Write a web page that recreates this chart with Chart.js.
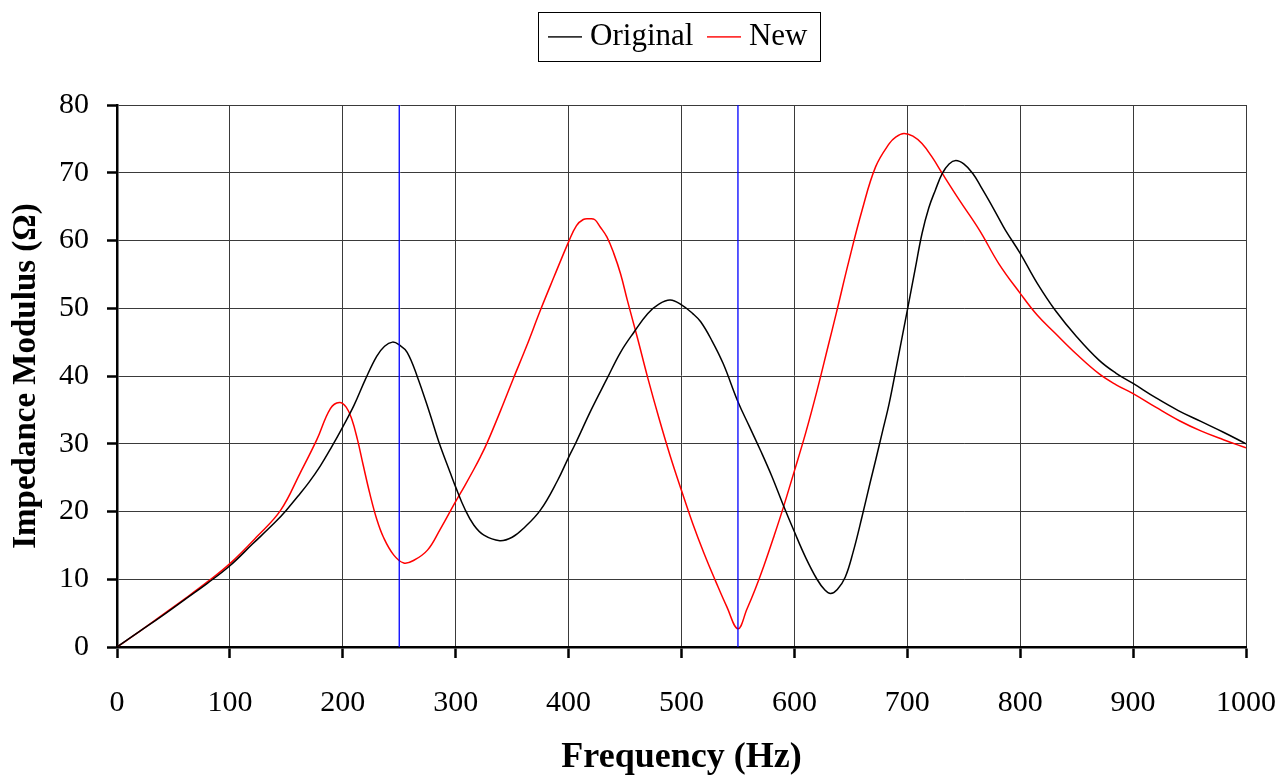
<!DOCTYPE html>
<html>
<head>
<meta charset="utf-8">
<script src="https://cdn.jsdelivr.net/npm/chart.js@4.4.0/dist/chart.umd.min.js"></script>
<style>
html,body{margin:0;padding:0;background:#fff;}
#wrap{width:1281px;height:779px;}
</style>
</head>
<body>
<div id="wrap"><canvas id="c" width="1281" height="779"></canvas></div>
<script>
// ---- data ----
const seriesNames = ['Original', 'New'];
const origFreq = [0,20,40,60,80,100,120,140,150,160,170,180,190,200,210,220,230,237,244,250,257,266,277,285,295,300,308,316,325,339,350,360,375,390,400,406,420,434,446,458,470,480,490,500,510,517,527,537,550,560,570,580,590,600,610,620,627,632,638,645,652,660,667,672,678,684,692,700,707,713,719,725,731,737,743,750,758,765,772,780,787,800,815,831,850,870,885,900,920,940,960,980,1000];
const origVals = [0,2.3,4.6,7.0,9.4,12.0,15.2,18.4,20.2,22.2,24.3,26.7,29.5,32.5,35.7,39.5,42.9,44.4,45.0,44.6,43.5,39.9,34.5,30.3,25.8,23.6,20.4,18.0,16.5,15.7,16.2,17.5,20.2,24.5,28.0,30.0,35.0,39.6,43.5,46.5,49.2,50.6,51.2,50.5,49.2,48.0,45.2,41.8,36.2,32.6,29.0,25.2,21.0,17.0,13.2,10.0,8.4,7.9,8.5,10.3,14.0,19.3,24.2,27.6,31.8,36.0,42.8,49.7,55.8,61.0,64.8,67.5,69.9,71.3,71.8,71.3,69.9,68.0,66.0,63.6,61.5,58.1,53.7,49.7,45.8,42.3,40.4,38.9,36.8,34.9,33.3,31.7,30.0];
const newFreq = [0,20,40,60,80,100,124,145,162,177,189,197,203,208,213,218,224,230,236,245,254,263,275,286,300,308,316,322,328,340,351,363,375,387,400,407,413,418,423,428,434,440,446,452,461,470,480,490,500,510,520,530,540,550,558,565,573,582,590,600,610,620,630,637,648,660,672,684,690,697,705,713,722,731,746,764,781,800,815,831,850,870,885,900,920,941,960,980,1000];
const newVals = [0,2.3,4.7,7.1,9.6,12.3,16.3,20.2,25.6,30.6,35.2,36.1,35.4,33.6,30.6,26.9,22.6,18.9,16.2,13.6,12.4,12.8,14.3,17.3,21.5,23.8,26.2,28.1,30.2,35.0,39.6,44.5,49.7,54.6,59.8,62.2,63.1,63.2,63.1,62.0,60.5,58.1,55.1,51.2,45.6,39.8,33.8,28.2,23.1,18.2,13.8,9.8,6.0,2.7,5.6,8.4,12.0,16.4,20.5,26.0,31.6,37.8,44.5,49.2,56.8,64.5,70.9,74.3,75.3,75.8,75.4,74.3,72.3,69.9,66.0,61.5,56.6,52.2,49.0,46.3,43.2,40.3,38.7,37.4,35.4,33.4,31.9,30.6,29.4];
const markerFreqs = [250, 550];
const xRange = [0, 1000];
const yRange = [0, 80];
const xStep = 100;
const yStep = 10;
const xTitle = 'Frequency (Hz)';
const yTitle = 'Impedance Modulus (\u03A9)';

// ---- chart ----
const FONT = "'Liberation Serif', 'Times New Roman', serif";
const toPts = (xs, ys) => xs.map((x, i) => ({x: x, y: ys[i]}));
const seriesColors = ['#000000', '#ff0000'];

function lineSwatch(color) {
  const c = document.createElement('canvas');
  c.width = 34; c.height = 2;
  const g = c.getContext('2d');
  g.fillStyle = color; g.fillRect(0, 0, 34, 1.6);
  return c;
}
const swatches = seriesColors.map(lineSwatch);

const markerSets = markerFreqs.map(f => ({
  label: 'marker' + f,
  data: [{x: f, y: yRange[0]}, {x: f, y: yRange[1]}],
  borderColor: '#0000ff', borderWidth: 1.3, pointRadius: 0, tension: 0, order: 0, isMarker: true
}));

const legendHeight = {
  id: 'legendHeight',
  beforeInit(chart) {
    const orig = chart.legend.fit;
    chart.legend.fit = function () { orig.call(this); this.height = 105; };
  }
};
const legendBox = {
  id: 'legendBox',
  afterDraw(chart) {
    const boxes = chart.legend && chart.legend.legendHitBoxes;
    if (!boxes || !boxes.length) return;
    let l = Infinity, r = -Infinity, t = Infinity, b = -Infinity;
    boxes.forEach(h => { l = Math.min(l, h.left); r = Math.max(r, h.left + h.width); t = Math.min(t, h.top); b = Math.max(b, h.top + h.height); });
    const ctx = chart.ctx;
    ctx.save();
    ctx.strokeStyle = '#000'; ctx.lineWidth = 1;
    ctx.strokeRect(Math.round(l - 18) + 0.5, Math.round(t - 9) + 0.5, Math.round(r - l + 30), Math.round(b - t + 18));
    ctx.restore();
  }
};

new Chart(document.getElementById('c'), {
  type: 'line',
  data: {
    datasets: [
      {label: seriesNames[0], data: toPts(origFreq, origVals), borderColor: seriesColors[0], backgroundColor: seriesColors[0], borderWidth: 1.5, pointRadius: 0, tension: 0.4, order: 1},
      {label: seriesNames[1], data: toPts(newFreq, newVals), borderColor: seriesColors[1], backgroundColor: seriesColors[1], borderWidth: 1.5, pointRadius: 0, tension: 0.4, order: 2},
      ...markerSets
    ]
  },
  options: {
    responsive: false, animation: false, devicePixelRatio: 1,
    layout: {padding: {top: 0, left: 0, right: 0, bottom: 0}},
    plugins: {
      legend: {
        display: true, position: 'top', fullSize: false,
        labels: {
          usePointStyle: true, pointStyleWidth: 19,
          font: {family: FONT, size: 31}, color: '#000', padding: 21,
          filter: (item, data) => !data.datasets[item.datasetIndex].isMarker,
          generateLabels: (chart) => Chart.defaults.plugins.legend.labels.generateLabels(chart).map(it => {
            if (it.datasetIndex < swatches.length) it.pointStyle = swatches[it.datasetIndex];
            return it;
          })
        }
      },
      tooltip: {enabled: false}
    },
    scales: {
      x: {
        type: 'linear', min: xRange[0], max: xRange[1],
        ticks: {stepSize: xStep, font: {family: FONT, size: 30}, color: '#000', padding: 27, maxRotation: 0, autoSkip: false,
          callback: (v) => String(v)},
        grid: {color: '#3a3a3a', lineWidth: 1, tickLength: 11, tickColor: '#000', tickWidth: 2.5},
        border: {color: '#000', width: 2.5},
        title: {display: true, text: xTitle, font: {family: FONT, size: 36, weight: 'bold'}, color: '#000', padding: {top: 0, bottom: 0}},
        afterFit: (s) => { s.height = 132; s.paddingRight = 35; }
      },
      y: {
        type: 'linear', min: yRange[0], max: yRange[1],
        ticks: {stepSize: yStep, font: {family: FONT, size: 30}, color: '#000', padding: 18, callback: (v) => String(v)},
        grid: {color: '#3a3a3a', lineWidth: 1, tickLength: 10, tickColor: '#000', tickWidth: 2.5},
        border: {color: '#000', width: 2.5},
        title: {display: true, text: yTitle, font: {family: FONT, size: 33, weight: 'bold'}, color: '#000', padding: {top: 7, bottom: 0}},
        afterFit: (s) => { s.width = 117; }
      }
    }
  },
  plugins: [legendHeight, legendBox]
});
</script>
</body>
</html>
